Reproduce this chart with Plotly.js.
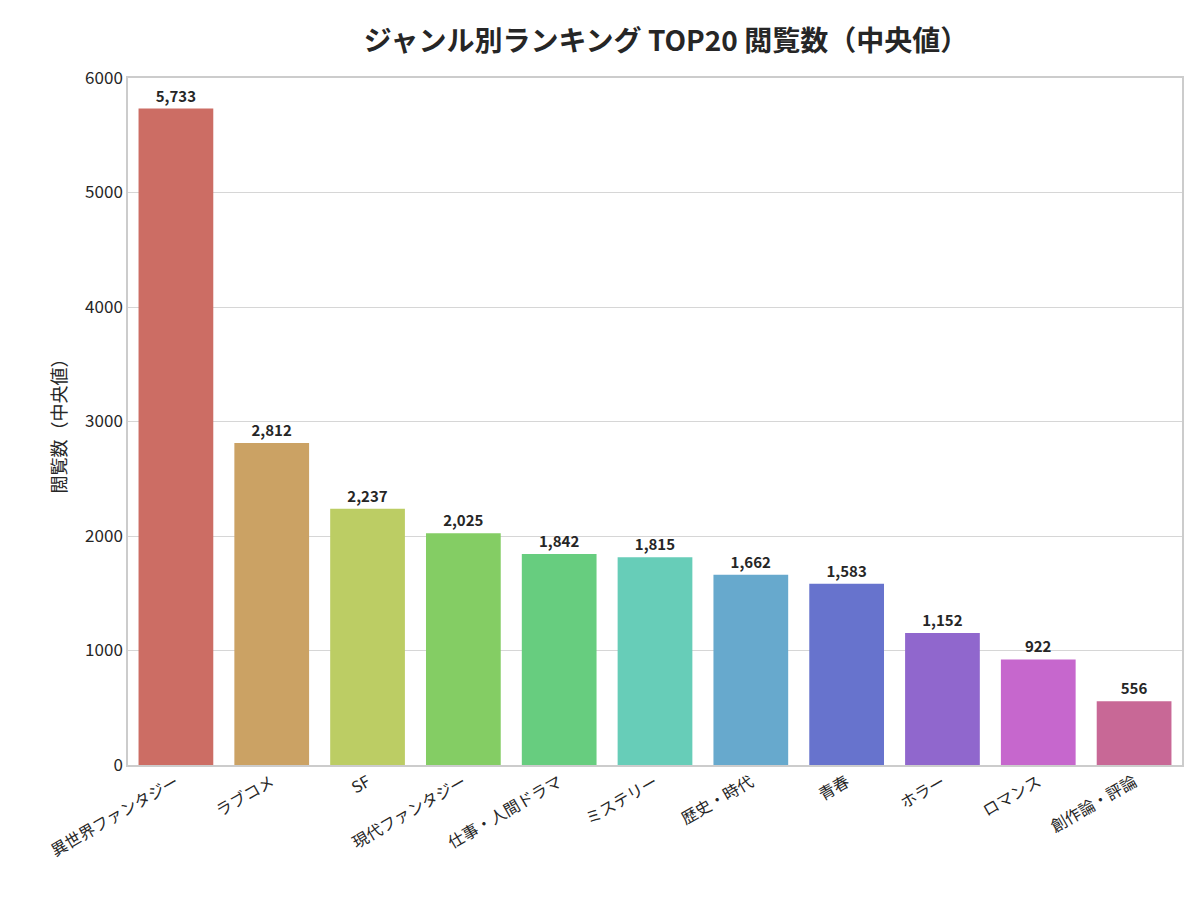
<!DOCTYPE html>
<html><head><meta charset="utf-8">
<script src="https://cdn.plot.ly/plotly-3.0.1.min.js"></script>
<style>body{margin:0}</style></head>
<body><div id="chart" style="width:1200px;height:900px"></div>
<script>
const genres = ['異世界ファンタジー','ラブコメ','SF','現代ファンタジー','仕事・人間ドラマ','ミステリー','歴史・時代','青春','ホラー','ロマンス','創作論・評論'];
const views = [5733, 2812, 2237, 2025, 1842, 1815, 1662, 1583, 1152, 922, 556];
const colors = ['#cc6d64','#cba264','#bccd64','#84cd64','#67cd7f','#67cdb8','#67a9cd','#6773cd','#9067cd','#c667cd','#c86896'];

const font = 'Noto Sans CJK JP, DejaVu Sans, sans-serif';
Plotly.newPlot('chart', [{
  type: 'bar', x: genres, y: views,
  marker: {color: colors},
  text: views.map(v => v.toLocaleString('en-US')),
  textposition: 'outside', cliponaxis: false,
  textfont: {family: font, size: 15, color: '#262626', weight: 'bold'},
  width: 0.78
}], {
  title: {text: '<b>ジャンル別ランキング TOP20 閲覧数（中央値）</b>', x: 0.555, y: 0.965,
    font: {family: font, size: 28, color: '#262626'}},
  font: {family: font, color: '#262626'},
  margin: {l: 128, r: 18, t: 78, b: 135},
  plot_bgcolor: '#fff', paper_bgcolor: '#fff',
  xaxis: {tickangle: -30, tickfont: {size: 16}, showline: true, linecolor: '#cccccc', linewidth: 1.5, mirror: true, ticks: ''},
  yaxis: {range: [0, 6000], dtick: 1000, tickfont: {size: 17}, gridcolor: '#d6d6d6', showline: true, linecolor: '#cccccc', linewidth: 1.5, mirror: true, zeroline: false,
    title: {text: '閲覧数（中央値）', font: {size: 18}, standoff: 14}},
  bargap: 0.22, showlegend: false
}, {displayModeBar: false});
</script></body></html>
